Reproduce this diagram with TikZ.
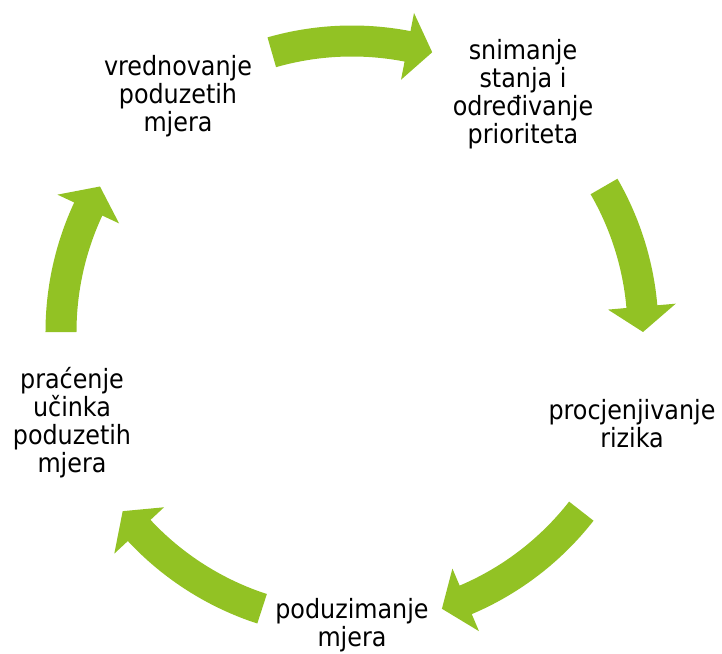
\documentclass[tikz,border=0pt]{standalone}
\usepackage{fontspec}
\setmainfont{DejaVu Sans Condensed}
\usetikzlibrary{positioning}
\definecolor{cyclegreen}{RGB}{146,194,36}
% curved block arrow on the circle, from angle #1 (tail) to angle #2 (tip)
\newcommand{\cyclearrow}[2]{%
    \fill[cyclegreen] (#1:306.5) arc[start angle=#1, end angle={#2+5}, radius=306.5]
        -- ({#2+5}:325) -- (#2:291) -- ({#2+5}:257) -- ({#2+5}:275.5)
        arc[start angle={#2+5}, end angle=#1, radius=275.5] -- cycle;}

\begin{document}
\begin{tikzpicture}[x=1pt, y=1pt,
    stage/.style={align=center, inner sep=0pt, font=\fontsize{26.5}{28}\selectfont}]
                                \useasboundingbox (-352, -321) rectangle (370, 332);
                                \cyclearrow{106}{74}
                                \cyclearrow{30}{0}
                                \cyclearrow{-38}{-72}
                                \cyclearrow{-108}{-142}
                                \cyclearrow{180}{150}
                                \node[stage] (snim) at (171, 238) {snimanje\\stanja i\\određivanje\\prioriteta};
                                \node[stage] (proc) at (280, -92) {procjenjivanje\\rizika};
                                \node[stage] (podu) at (0, -293) {poduzimanje\\mjera};
                                \node[stage] (prac) at (-280, -91) {praćenje\\učinka\\poduzetih\\mjera};
                                \node[stage] (vred) at (-174, 236) {vrednovanje\\poduzetih\\mjera};
                            \end{tikzpicture}
\end{document}
